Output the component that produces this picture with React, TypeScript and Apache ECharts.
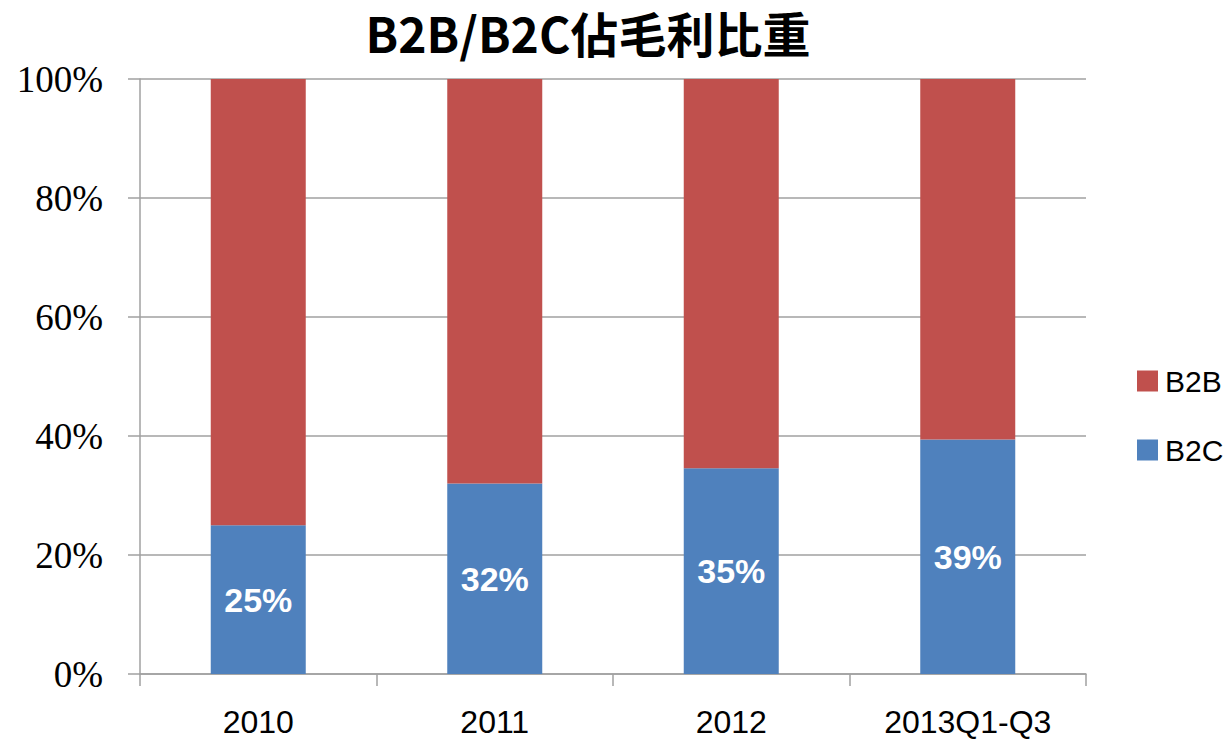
import React, { useEffect, useRef } from "react";
import * as echarts from "echarts";

const categories = ["2010", "2011", "2012", "2013Q1-Q3"];
const b2cShare = [0.25, 0.32, 0.346, 0.394];
const b2bShare = [0.75, 0.68, 0.654, 0.606];
const yTicks = [0, 0.2, 0.4, 0.6, 0.8, 1];
const titleText = "B2B/B2C佔毛利比重";

const RED = "#C0504D";
const BLUE = "#4F81BD";
const GRAY = "#A0A0A0";

export default function App() {
  const ref = useRef<HTMLDivElement>(null);
  useEffect(() => {
    if (!ref.current) return;
    const chart = echarts.init(ref.current, undefined, { renderer: "svg" });
    chart.setOption({
      animation: false,
      backgroundColor: "#ffffff",
      graphic: [
        {
          type: "text",
          x: 588,
          y: 32,
          style: {
            text: titleText,
            fontFamily: "'Noto Sans CJK TC', 'Noto Sans', sans-serif",
            fontWeight: "bold",
            fontSize: 48,
            fill: "#000",
            textAlign: "center",
            textVerticalAlign: "middle",
          },
        },
      ],
      legend: {
        orient: "vertical",
        left: 1132,
        top: 361,
        itemWidth: 21,
        itemHeight: 21,
        itemGap: 39,
        icon: "rect",
        data: ["B2B", "B2C"],
        textStyle: {
          fontFamily: "'Liberation Sans', sans-serif",
          fontSize: 30,
          color: "#000",
          padding: [0, 0, 0, 2],
        },
      },
      grid: { left: 140, right: 139, top: 79, bottom: 65, containLabel: false },
      xAxis: {
        type: "category",
        data: categories,
        axisLine: { show: true, lineStyle: { color: GRAY, width: 1.5 } },
        axisTick: { show: true, length: 12, lineStyle: { color: GRAY, width: 1.5 } },
        axisLabel: {
          margin: 32,
          fontFamily: "'Liberation Sans', sans-serif",
          fontSize: 32,
          color: "#000",
        },
        splitLine: { show: false },
      },
      yAxis: {
        type: "value",
        min: 0,
        max: 1,
        interval: 0.2,
        axisLine: { show: true, lineStyle: { color: GRAY, width: 1.5 } },
        axisTick: { show: true, length: 12, lineStyle: { color: GRAY, width: 1.5 } },
        splitLine: { show: true, lineStyle: { color: GRAY, width: 1.5 } },
        axisLabel: {
          margin: 37,
          fontFamily: "'Liberation Serif', serif",
          fontSize: 37,
          color: "#000",
          formatter: (v: number) => {
            const t = yTicks.find((x) => Math.abs(x - v) < 1e-6);
            return Math.round((t ?? v) * 100) + "%";
          },
        },
      },
      series: [
        {
          name: "B2C",
          type: "bar",
          stack: "total",
          data: b2cShare,
          barWidth: 95,
          itemStyle: { color: BLUE },
          label: {
            show: true,
            position: "inside",
            color: "#fff",
            fontWeight: "bold",
            fontSize: 34,
            fontFamily: "'Liberation Sans', sans-serif",
            formatter: (p: any) => Math.round(p.value * 100) + "%",
          },
        },
        {
          name: "B2B",
          type: "bar",
          stack: "total",
          data: b2bShare,
          barWidth: 95,
          itemStyle: { color: RED },
          label: { show: false },
        },
      ],
    });
    return () => chart.dispose();
  }, []);
  return (
    <div
      ref={ref}
      style={{ position: "fixed", left: 0, top: 0, width: 1225, height: 739 }}
    />
  );
}
